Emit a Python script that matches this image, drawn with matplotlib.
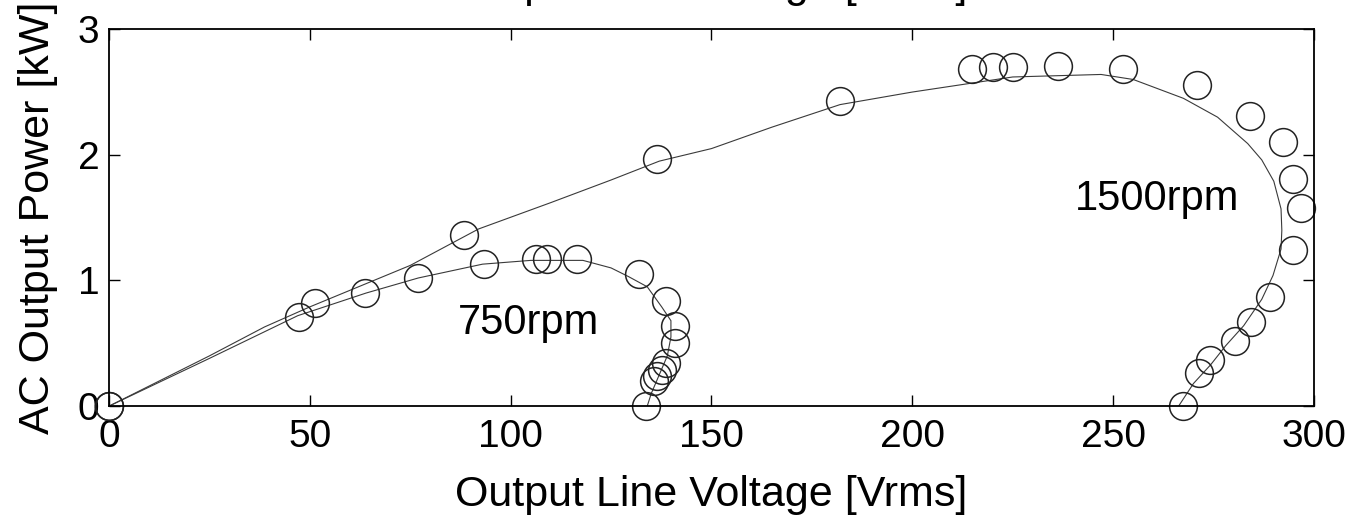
import matplotlib.pyplot as plt
import numpy as np

plt.rcParams["font.family"] = ["Liberation Sans", "DejaVu Sans"]

# measured points (circles)
v_1500 = [0, 51.2, 88.4, 136.4, 181.9, 214.8, 220.0, 225.0, 236.2, 252.5, 271.0, 284.0,
          292.3, 294.8, 296.8, 294.8, 289.0, 284.3, 280.3, 274.0, 271.3, 267.5]
p_1500 = [0, 0.82, 1.36, 1.97, 2.43, 2.68, 2.70, 2.70, 2.71, 2.68, 2.56, 2.31,
          2.10, 1.81, 1.58, 1.24, 0.87, 0.67, 0.52, 0.37, 0.26, 0.0]

v_750 = [0, 47.2, 63.7, 77.0, 93.4, 106.2, 109.0, 116.4, 131.9, 138.6, 141.0, 141.0,
         138.6, 137.6, 136.4, 135.6, 133.6]
p_750 = [0, 0.71, 0.90, 1.02, 1.13, 1.17, 1.17, 1.17, 1.05, 0.84, 0.64, 0.50,
         0.34, 0.29, 0.24, 0.20, 0.0]

# simulated curves (lines)
v_1500_sim = [0, 25, 38.7, 50, 75, 92, 110, 125, 137, 150, 165, 182, 200, 225, 247, 255,
              267.5, 276, 283.5, 287, 290, 291.8, 292, 291.8, 289.8, 287, 282.5, 278,
              274.3, 270, 266.3]
p_1500_sim = [0, 0.40, 0.63, 0.79, 1.12, 1.41, 1.62, 1.80, 1.95, 2.05, 2.22, 2.40, 2.50,
              2.62, 2.64, 2.60, 2.45, 2.30, 2.09, 1.96, 1.79, 1.57, 1.40, 1.25, 1.04,
              0.85, 0.64, 0.48, 0.33, 0.18, 0.0]

v_750_sim = [0, 25, 47, 64, 77, 93, 105, 118, 125, 129.4, 134, 137.6, 139.9, 139.9, 139,
             137, 135, 134]
p_750_sim = [0, 0.38, 0.72, 0.90, 1.02, 1.13, 1.16, 1.16, 1.10, 1.03, 0.95, 0.79, 0.68,
             0.55, 0.40, 0.25, 0.10, 0.0]

fig = plt.figure(figsize=(13.56, 5.22), dpi=100)
ax = fig.add_axes([0.0804, 0.222, 0.8886, 0.722])

line_kw = dict(color="#3a3a3a", linewidth=0.8)
mark_kw = dict(linestyle="none", marker="o", markersize=20, markerfacecolor="none",
               markeredgecolor="#222222", markeredgewidth=1.1)

ax.plot(v_1500_sim, p_1500_sim, **line_kw)
ax.plot(v_750_sim, p_750_sim, **line_kw)
ax.plot(v_1500, p_1500, clip_on=False, **mark_kw)
ax.plot(v_750, p_750, clip_on=False, **mark_kw)

ax.text(261, 1.65, "1500rpm", fontsize=30, ha="center", va="center")
ax.text(104.5, 0.66, "750rpm", fontsize=30, ha="center", va="center")

ax.set_xlim(0, 300)
ax.set_ylim(0, 3)
ax.set_xticks([0, 50, 100, 150, 200, 250, 300])
ax.set_yticks([0, 1, 2, 3])
ax.tick_params(direction="in", length=8, width=1, top=True, right=True, labelsize=28)
ax.tick_params(axis="x", pad=9)
ax.tick_params(axis="y", pad=7)
for s in ax.spines.values():
    s.set_linewidth(1.3)

ax.set_xlabel("Output Line Voltage [Vrms]", fontsize=31, labelpad=15)
ax.set_ylabel("AC Output Power [kW]", fontsize=31, labelpad=14)

# label of the upper panel, cut off at the top edge of the crop
fig.text(0.5245, 1.006, "Output Line Voltage [Vrms]", fontsize=31, ha="center", va="baseline")

fig.savefig("out.png", dpi=100)
